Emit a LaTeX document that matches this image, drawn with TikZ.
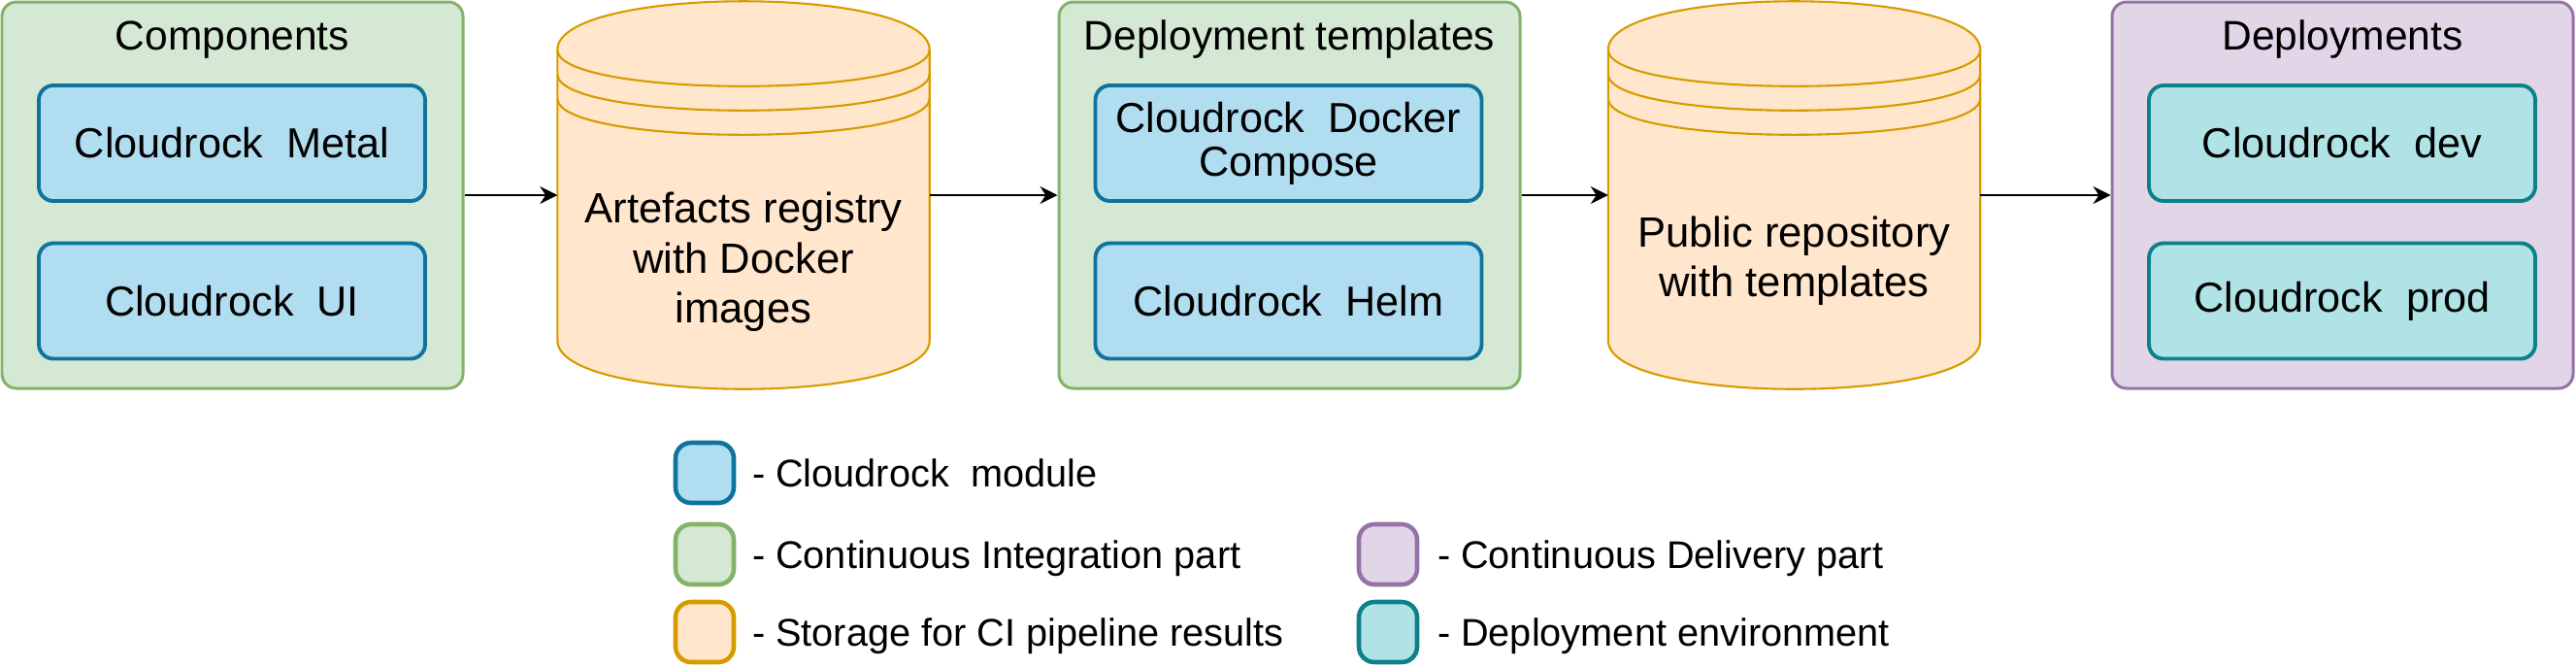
\documentclass[tikz,border=0pt]{standalone}
\usepackage{fontspec}
\setmainfont{Liberation Sans}
\usetikzlibrary{arrows.meta, positioning}

\definecolor{cigreen}{HTML}{D5E8D4}
\definecolor{cigreenline}{HTML}{82B366}
\definecolor{modblue}{HTML}{B1DDF0}
\definecolor{modblueline}{HTML}{10739E}
\definecolor{storefill}{HTML}{FFE6CC}
\definecolor{storeline}{HTML}{D79B00}
\definecolor{cdpurple}{HTML}{E1D5E7}
\definecolor{cdpurpleline}{HTML}{9673A6}
\definecolor{envteal}{HTML}{B0E3E6}
\definecolor{envtealline}{HTML}{0E8088}

% datastore outline drawn round an (empty) named node
\newcommand{\datastore}[1]{%
  \draw[draw=storeline, line width=0.6pt, fill=storefill]
    ([yshift=-5mm]#1.north west) .. controls +(0,6.67mm) and +(0,6.67mm) .. ([yshift=-5mm]#1.north east)
    -- ([yshift=5mm]#1.south east) .. controls +(0,-6.67mm) and +(0,-6.67mm) .. ([yshift=5mm]#1.south west)
    -- cycle;
  \foreach \d in {5,7.5,10}
    \draw[draw=storeline, line width=0.6pt]
      ([yshift=-\d mm]#1.north west) .. controls +(0,-5mm) and +(0,-5mm) .. ([yshift=-\d mm]#1.north east);
}

\begin{document}
\begin{tikzpicture}[
    group/.style={rectangle, draw, rounded corners=1.5mm, line width=0.85pt, minimum width=4.75cm, minimum height=3.98cm, inner sep=0pt},
    cigroup/.style={group, draw=cigreenline, fill=cigreen},
    cdgroup/.style={group, draw=cdpurpleline, fill=cdpurple},
    grouptitle/.style={font=\fontsize{12.1}{15}\selectfont, anchor=base, inner sep=0pt},
    module/.style={rectangle, draw=modblueline, fill=modblue, rounded corners=1.5mm, line width=1.1pt, minimum width=3.98cm, minimum height=1.19cm, align=center, font=\fontsize{12.3}{12.8}\selectfont},
    env/.style={module, draw=envtealline, fill=envteal},
    store/.style={rectangle, minimum width=3.82cm, minimum height=3.98cm, inner sep=0pt},
    storetext/.style={align=center, font=\fontsize{12.4}{14.6}\selectfont},
    swatch/.style={rectangle, rounded corners=1.6mm, line width=1.3pt, minimum width=0.6cm, minimum height=0.62cm, inner sep=0pt},
    legendtext/.style={anchor=base west, inner sep=0pt, font=\fontsize{11.3}{13}\selectfont},
    arrow/.style={-{Stealth[length=1.8mm, width=1.8mm]}, line width=0.6pt}
]

% Background
\useasboundingbox (0,0) rectangle (26.54,-6.86);

% Components
\node[cigroup] (comps) at (2.395,-2.01) {};
\node[grouptitle] (comps_title) at ([yshift=-5.1mm]comps.north) {Components};
\node[module] (metal) at (2.39,-1.475) {Cloudrock\ \ Metal};
\node[module] (ui) at (2.39,-3.10) {Cloudrock\ \ UI};

% Artefacts registry
\node[store] (registry) at (7.66,-2.01) {};
\datastore{registry}
\node[storetext] (registry_text) at ([yshift=-6.9mm]registry.center) {Artefacts registry\\with Docker\\images};

% Deployment templates
\node[cigroup] (templates) at (13.285,-2.01) {};
\node[grouptitle] (templates_title) at ([yshift=-5.1mm]templates.north) {Deployment templates};
\node[module] (compose) at (13.275,-1.475) {Cloudrock\ \ Docker\\Compose};
\node[module] (helm) at (13.275,-3.10) {Cloudrock\ \ Helm};

% Public repository
\node[store] (repo) at (18.485,-2.01) {};
\datastore{repo}
\node[storetext] (repo_text) at ([yshift=-6.8mm]repo.center) {Public repository\\with templates};

% Deployments
\node[cdgroup] (deploys) at (24.135,-2.01) {};
\node[grouptitle] (deploys_title) at ([yshift=-5.1mm]deploys.north) {Deployments};
\node[env] (dev) at (24.13,-1.475) {Cloudrock\ \ dev};
\node[env] (prod) at (24.13,-3.10) {Cloudrock\ \ prod};

% Connections
\draw[arrow] (comps) -- (registry);
\draw[arrow] (registry) -- (templates);
\draw[arrow] (templates) -- (repo);
\draw[arrow] (repo) -- (deploys);

% Legend
\node[swatch, draw=modblueline, fill=modblue] (key_module) at (7.26,-4.87) {};
\node[swatch, draw=cigreenline, fill=cigreen] (key_ci) at (7.26,-5.71) {};
\node[swatch, draw=storeline, fill=storefill] (key_store) at (7.26,-6.51) {};
\node[swatch, draw=cdpurpleline, fill=cdpurple] (key_cd) at (14.30,-5.71) {};
\node[swatch, draw=envtealline, fill=envteal] (key_env) at (14.30,-6.51) {};

\node[legendtext] (key_module_text) at ([xshift=1.6mm, yshift=-1.4mm]key_module.east) {- Cloudrock\ \ module};
\node[legendtext] (key_ci_text) at ([xshift=1.6mm, yshift=-1.4mm]key_ci.east) {- Continuous Integration part};
\node[legendtext] (key_store_text) at ([xshift=1.6mm, yshift=-1.4mm]key_store.east) {- Storage for CI pipeline results};
\node[legendtext] (key_cd_text) at ([xshift=1.8mm, yshift=-1.4mm]key_cd.east) {- Continuous Delivery part};
\node[legendtext] (key_env_text) at ([xshift=1.8mm, yshift=-1.4mm]key_env.east) {- Deployment environment};

\end{tikzpicture}
\end{document}
